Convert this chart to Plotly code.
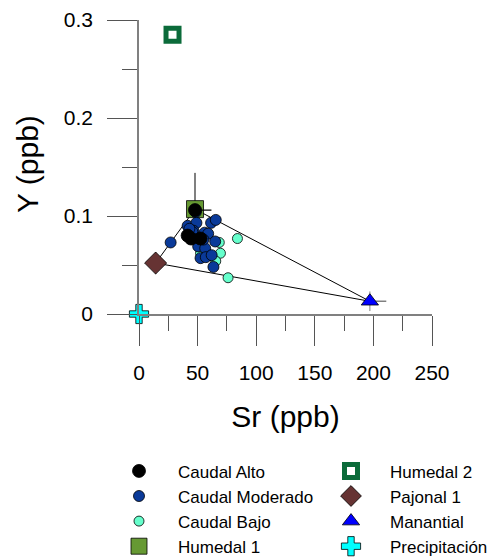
import plotly.graph_objects as go

# ---------------- data ----------------
alto_x = [47.8, 41.5, 44.5, 52.5]
alto_y = [0.106, 0.080, 0.077, 0.077]

mod_x = [27.0, 48.5, 41.5, 49.0, 61.5, 65.5, 46.5, 56.0, 59.0, 45.5, 48.5, 65.0,
         50.5, 56.5, 52.5, 57.0, 62.0, 63.5, 43.0, 55.0]
mod_y = [0.073, 0.104, 0.090, 0.093, 0.093, 0.096, 0.085, 0.083, 0.082, 0.084, 0.076, 0.074,
         0.069, 0.067, 0.057, 0.058, 0.060, 0.048, 0.087, 0.076]

bajo_x = [84.0, 68.5, 69.5, 65.5, 52.5, 76.0]
bajo_y = [0.077, 0.073, 0.062, 0.054, 0.062, 0.037]

hum1_x, hum1_y = [47.8], [0.107]
hum1_err_y = [0.037]
alto_err_plus, alto_err_minus = [14, 0, 0, 0], [3, 0, 0, 0]

hum2_x, hum2_y = [28.6], [0.285]

paj_x, paj_y = [14.2], [0.052]
paj_err_y = [0.011]

man_x, man_y = [197.0], [0.013]
man_err_plus, man_err_minus = [14], [4]
man_err_y = [0.010]

pre_x, pre_y = [0.0], [0.0]

# mixing triangle: Pajonal 1 -> Humedal 1 -> Manantial -> Pajonal 1
mix_x = [paj_x[0], hum1_x[0], man_x[0], paj_x[0]]
mix_y = [paj_y[0], hum1_y[0], man_y[0], paj_y[0]]

x_ticks = [0, 50, 100, 150, 200, 250]
y_ticks = [0, 0.1, 0.2, 0.3]
y_ticktext = ["0", "0.1", "0.2", "0.3"]

x_title = "Sr (ppb)"
y_title = "Y (ppb)"

FONT = "Arial, Liberation Sans, sans-serif"
OUT = dict(color="black", width=0.8)

fig = go.Figure()

fig.add_trace(go.Scatter(x=mix_x, y=mix_y, mode="lines", line=dict(color="black", width=1),
                         showlegend=False, hoverinfo="skip", cliponaxis=False))

fig.add_trace(go.Scatter(
    x=hum1_x, y=hum1_y, mode="markers", name="Humedal 1", legend="legend", legendrank=4,
    marker=dict(symbol="square", size=17, color="#669933", line=OUT),
    error_y=dict(type="data", array=hum1_err_y, color="#808080", thickness=2, width=0),
    cliponaxis=False))

fig.add_trace(go.Scatter(
    x=hum2_x, y=hum2_y, mode="markers", name="Humedal 2", legend="legend2", legendrank=1,
    marker=dict(symbol="square", size=13, color="white", line=dict(color="#0B6B3A", width=5)),
    cliponaxis=False))

fig.add_trace(go.Scatter(
    x=bajo_x, y=bajo_y, mode="markers", name="Caudal Bajo", legend="legend", legendrank=3,
    marker=dict(symbol="circle", size=10, color="#66FFCC", line=OUT), cliponaxis=False))

fig.add_trace(go.Scatter(
    x=mod_x, y=mod_y, mode="markers", name="Caudal Moderado", legend="legend", legendrank=2,
    marker=dict(symbol="circle", size=11, color="#0A3A99", line=OUT), cliponaxis=False))

fig.add_trace(go.Scatter(
    x=alto_x, y=alto_y, mode="markers", name="Caudal Alto", legend="legend", legendrank=1,
    marker=dict(symbol="circle", size=13, color="black", line=OUT),
    error_x=dict(type="data", array=alto_err_plus, arrayminus=alto_err_minus,
                 color="black", thickness=1.2, width=0),
    cliponaxis=False))

fig.add_trace(go.Scatter(
    x=paj_x, y=paj_y, mode="markers", name="Pajonal 1", legend="legend2", legendrank=2,
    marker=dict(symbol="diamond", size=17, color="#663333", line=OUT),
    error_y=dict(type="data", array=paj_err_y, color="black", thickness=1, width=0),
    cliponaxis=False))

fig.add_trace(go.Scatter(
    x=man_x, y=man_y, mode="markers", name="Manantial", legend="legend2", legendrank=3,
    marker=dict(symbol="triangle-up", size=15, color="#0000FF", line=OUT),
    error_x=dict(type="data", array=man_err_plus, arrayminus=man_err_minus,
                 color="#808080", thickness=1.5, width=0),
    error_y=dict(type="data", array=man_err_y, color="#808080", thickness=1, width=0),
    cliponaxis=False))

fig.add_trace(go.Scatter(
    x=pre_x, y=pre_y, mode="markers", name="Precipitación", legend="legend2", legendrank=4,
    marker=dict(symbol="cross", size=16, color="#00FFFF", line=OUT), cliponaxis=False))

axis_common = dict(showgrid=False, zeroline=False, showline=True, linecolor="#808080",
                   linewidth=1.5, ticks="outside", ticklen=30, tickwidth=1.2,
                   tickcolor="#555555", tickfont=dict(family=FONT, size=21, color="black"),
                   title_font=dict(family=FONT, size=30, color="black"))

legend_common = dict(orientation="v", yref="container", y=0.189, yanchor="top",
                     xref="container", xanchor="left", itemwidth=68,
                     font=dict(family=FONT, size=17, color="black"), traceorder="normal",
                     bgcolor="rgba(0,0,0,0)", borderwidth=0)

fig.update_layout(
    width=491, height=559,
    margin=dict(l=139, r=59, t=20, b=245, autoexpand=False),
    plot_bgcolor="white", paper_bgcolor="white",
    font=dict(family=FONT, color="black"),
    xaxis=dict(range=[0, 250], tickvals=x_ticks, title=dict(text=x_title, standoff=23),
               minor=dict(dtick=25, tick0=25, ticks="outside", ticklen=15, tickcolor="#555555",
                          tickwidth=1.2),
               ticklabelstandoff=9, **axis_common),
    yaxis=dict(range=[0, 0.3], tickvals=y_ticks, ticktext=y_ticktext,
               minor=dict(dtick=0.05, tick0=0.05, ticks="outside", ticklen=15, tickcolor="#555555",
                          tickwidth=1.2),
               ticklabelstandoff=10, **axis_common),
    legend=dict(x=100 / 491, **legend_common),
    legend2=dict(x=312 / 491, **legend_common),
    annotations=[dict(text=y_title, textangle=-90, xref="paper", yref="paper",
                      x=(27 - 139) / 293, y=(314 - 164) / 294, xanchor="center", yanchor="middle",
                      showarrow=False, font=dict(family=FONT, size=30, color="black"))],
)

fig.write_html("out.html")
